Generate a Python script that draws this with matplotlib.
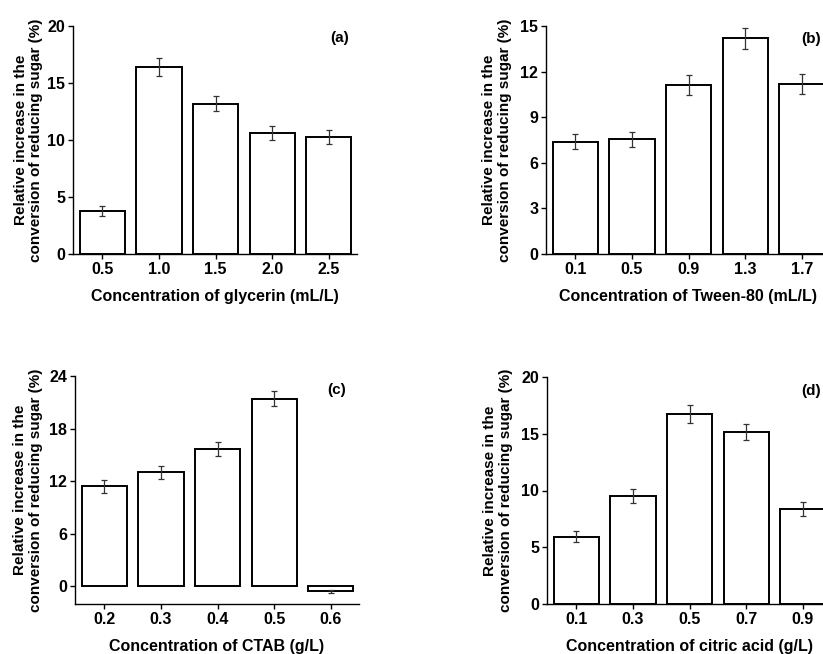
import matplotlib.pyplot as plt

plt.rcParams['font.family'] = ['Liberation Sans', 'DejaVu Sans']
plt.rcParams['font.weight'] = 'bold'

# (a) glycerin
glycerin_conc = ["0.5", "1.0", "1.5", "2.0", "2.5"]
glycerin_val = [3.77, 16.4, 13.2, 10.63, 10.28]
glycerin_err = [0.47, 0.75, 0.63, 0.6, 0.6]

# (b) Tween-80
tween_conc = ["0.1", "0.5", "0.9", "1.3", "1.7"]
tween_val = [7.38, 7.55, 11.12, 14.19, 11.19]
tween_err = [0.49, 0.48, 0.68, 0.7, 0.65]

# (c) CTAB
ctab_conc = ["0.2", "0.3", "0.4", "0.5", "0.6"]
ctab_val = [11.43, 13.03, 15.72, 21.42, -0.57]
ctab_err = [0.72, 0.76, 0.8, 0.82, 0.2]

# (d) citric acid
citric_conc = ["0.1", "0.3", "0.5", "0.7", "0.9"]
citric_val = [5.94, 9.52, 16.75, 15.14, 8.37]
citric_err = [0.51, 0.64, 0.78, 0.73, 0.6]

W, H = 823, 654
fig = plt.figure(figsize=(W / 100, H / 100), dpi=100)

ylabel = "Relative increase in the\nconversion of reducing sugar (%)"

panels = [
    # left px, top px, bottom px, labels, values, errors, ylim, yticks, xlabel, tag, tag pos, ylabel x
    (73, 26, 254, glycerin_conc, glycerin_val, glycerin_err, (0, 20), [0, 5, 10, 15, 20],
     "Concentration of glycerin (mL/L)", "(a)", (0.94, 0.947), -0.105),
    (546, 26, 254, tween_conc, tween_val, tween_err, (0, 15), [0, 3, 6, 9, 12, 15],
     "Concentration of Tween-80 (mL/L)", "(b)", (0.933, 0.943), -0.12),
    (75, 376, 604, ctab_conc, ctab_val, ctab_err, (-2, 24), [0, 6, 12, 18, 24],
     "Concentration of CTAB (g/L)", "(c)", (0.922, 0.94), -0.113),
    (547, 377, 604, citric_conc, citric_val, citric_err, (0, 20), [0, 5, 10, 15, 20],
     "Concentration of citric acid (g/L)", "(d)", (0.93, 0.94), -0.12),
]

for left, top, bottom, cats, vals, errs, ylim, yticks, xlabel, tag, tagpos, ylx in panels:
    ax = fig.add_axes([left / W, (H - bottom) / H, 284 / W, (bottom - top) / H])
    x = list(range(len(cats)))
    ax.bar(x, vals, width=0.8, color="white", edgecolor="black", linewidth=1.4, zorder=2)
    ax.errorbar(x, vals, yerr=errs, fmt="none", ecolor="#333333", elinewidth=0.9,
                capsize=2.2, capthick=0.9, zorder=3)
    ax.set_xlim(-0.52, 4.5)
    ax.set_ylim(*ylim)
    ax.set_yticks(yticks)
    ax.set_xticks(x)
    ax.set_xticklabels(cats)
    for s in ("top", "right"):
        ax.spines[s].set_visible(False)
    for s in ("left", "bottom"):
        ax.spines[s].set_linewidth(1.0)
    ax.spines["left"].set_bounds(ylim[0], yticks[-1])
    ax.tick_params(axis="both", direction="out", length=3.5, width=1.0, labelsize=11.5, pad=2)
    for lab in ax.get_xticklabels() + ax.get_yticklabels():
        lab.set_fontweight("bold")
    ax.set_ylabel(ylabel, fontsize=11, fontweight="bold", linespacing=1.15)
    ax.yaxis.set_label_coords(ylx, 0.5)
    ax.set_xlabel(xlabel, fontsize=11.5, fontweight="bold", labelpad=9)
    ax.text(tagpos[0], tagpos[1], tag, transform=ax.transAxes, ha="center", va="center",
            fontsize=11, fontweight="bold")

fig.savefig("out.png", dpi=100)
